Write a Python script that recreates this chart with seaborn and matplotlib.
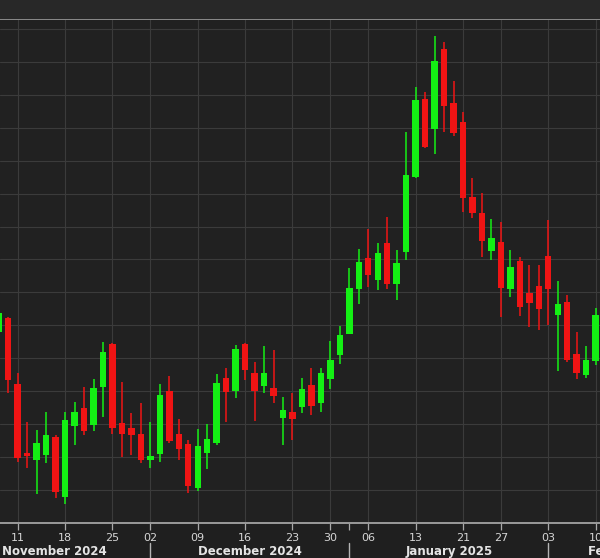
import matplotlib
matplotlib.use("Agg")
import matplotlib.pyplot as plt
import matplotlib.transforms as mtransforms
from matplotlib.patches import Rectangle
import numpy as np
import pandas as pd
import seaborn as sns

# ---------------- data (daily candles) ----------------
dates = [
    "2024-11-07", "2024-11-08", "2024-11-11", "2024-11-12", "2024-11-13", "2024-11-14", "2024-11-15",
    "2024-11-18", "2024-11-19", "2024-11-20", "2024-11-21", "2024-11-22",
    "2024-11-25", "2024-11-26", "2024-11-27", "2024-11-29",
    "2024-12-02", "2024-12-03", "2024-12-04", "2024-12-05", "2024-12-06",
    "2024-12-09", "2024-12-10", "2024-12-11", "2024-12-12", "2024-12-13",
    "2024-12-16", "2024-12-17", "2024-12-18", "2024-12-19", "2024-12-20",
    "2024-12-23", "2024-12-24", "2024-12-26", "2024-12-27",
    "2024-12-30", "2024-12-31", "2025-01-02", "2025-01-03",
    "2025-01-06", "2025-01-07", "2025-01-08", "2025-01-09", "2025-01-10",
    "2025-01-13", "2025-01-14", "2025-01-15", "2025-01-16", "2025-01-17",
    "2025-01-21", "2025-01-22", "2025-01-23", "2025-01-24",
    "2025-01-27", "2025-01-28", "2025-01-29", "2025-01-30", "2025-01-31",
    "2025-02-03", "2025-02-04", "2025-02-05", "2025-02-06", "2025-02-07",
    "2025-02-10",
]
opens = [
    71.80, 72.21, 70.21, 68.12, 67.92, 68.05, 68.59,
    66.79, 68.94, 69.50, 68.97, 70.11,
    71.43, 69.04, 68.87, 68.71,
    67.90, 68.10, 70.00, 68.69, 68.39,
    67.04, 68.13, 68.43, 70.39, 70.01,
    71.43, 70.56, 70.15, 70.10, 69.17,
    69.37, 69.52, 70.18, 69.63,
    70.36, 71.09, 71.75, 73.09,
    74.03, 73.37, 74.51, 73.27, 74.23,
    76.50, 78.87, 77.98, 80.40, 78.76,
    78.19, 75.89, 75.40, 74.26,
    74.54, 73.09, 73.95, 72.97, 73.19,
    74.10, 72.31, 72.71, 71.12, 70.49,
    70.92,
]
highs = [
    72.45, 72.26, 70.54, 69.07, 68.81, 69.37, 68.66,
    69.37, 69.67, 70.11, 70.36, 71.50,
    71.45, 70.28, 69.32, 69.64,
    69.07, 70.21, 70.46, 69.14, 68.51,
    68.84, 69.00, 70.52, 70.69, 71.40,
    71.45, 70.89, 71.37, 71.25, 69.83,
    69.93, 70.39, 70.69, 70.69,
    71.53, 71.98, 73.73, 74.31,
    74.94, 74.49, 75.30, 74.29, 77.88,
    79.25, 79.10, 80.79, 80.62, 79.43,
    78.49, 76.47, 76.01, 75.22,
    75.15, 74.29, 74.08, 73.83, 73.83,
    75.20, 73.34, 72.92, 71.80, 71.38,
    72.54,
]
lows = [
    71.70, 69.93, 67.85, 67.65, 66.87, 67.82, 66.75,
    66.56, 68.36, 68.65, 68.79, 69.22,
    68.71, 68.00, 68.05, 67.80,
    67.65, 67.85, 68.41, 67.90, 66.89,
    66.97, 67.62, 68.36, 69.07, 69.80,
    70.33, 69.10, 69.95, 69.64, 68.36,
    68.51, 69.32, 69.27, 69.37,
    70.05, 70.82, 71.73, 72.64,
    73.15, 73.07, 73.09, 72.77, 73.98,
    76.47, 77.38, 77.20, 77.88, 77.75,
    75.45, 75.25, 74.08, 73.98,
    72.26, 72.87, 72.28, 71.95, 71.87,
    72.01, 70.62, 70.89, 70.36, 70.39,
    70.79,
]
closes = [
    72.36, 70.33, 67.98, 68.04, 68.41, 68.66, 66.92,
    69.12, 69.35, 68.79, 70.08, 71.19,
    68.87, 68.69, 68.66, 67.92,
    68.03, 69.88, 68.49, 68.24, 67.11,
    68.33, 68.53, 70.25, 69.98, 71.28,
    70.64, 70.01, 70.54, 69.85, 69.42,
    69.14, 70.05, 69.54, 70.56,
    70.94, 71.70, 73.12, 73.93,
    73.53, 74.20, 73.27, 73.90, 76.57,
    78.84, 77.43, 80.04, 78.66, 77.83,
    75.86, 75.40, 74.57, 74.64,
    73.12, 73.76, 72.56, 72.67, 72.48,
    73.09, 72.64, 70.94, 70.54, 70.94,
    72.31,
]
month_labels = ["November 2024", "December 2024", "January 2025", "February 2025"]

# ---------------- style ----------------
BG = "#212121"
FIG_BG = "#1f1f1f"
HEADER = "#282828"
GRID = "#3b3b3b"
UP = "#14f014"
DOWN = "#f01414"
TXT = "#d6d6d6"

sns.set_theme(style="dark", rc={
    "axes.facecolor": BG,
    "figure.facecolor": FIG_BG,
    "axes.edgecolor": "#8c8c8c",
    "xtick.color": "#b0b0b0",
    "ytick.color": "#b0b0b0",
})
plt.rcParams["font.family"] = ["DejaVu Sans"]

df = pd.DataFrame({"date": pd.to_datetime(dates), "open": opens, "high": highs,
                   "low": lows, "close": closes})
df["idx"] = np.arange(len(df))
df["up"] = df["close"] >= df["open"]

fig = plt.figure(figsize=(6.0, 5.58), dpi=100)
fig.patches.append(Rectangle((0, 1 - 19 / 558), 1, 19 / 558, transform=fig.transFigure,
                             facecolor=HEADER, edgecolor="none", zorder=0))
ax = fig.add_axes([0, 35 / 558, 1, 504 / 558])
ax.set_facecolor(BG)

# grid: horizontal at every whole unit, vertical at week starts
for v in range(67, 82):
    ax.axhline(v, color=GRID, lw=0.8, zorder=0)

week = df["date"].dt.isocalendar().week.to_numpy()
week_start = [i for i in range(1, len(df)) if week[i] != week[i - 1]]
for i in week_start:
    ax.axvline(i, color=GRID, lw=0.8, zorder=0)

# candles
colors = np.where(df["up"], UP, DOWN)
ax.vlines(df["idx"], df["low"], df["high"], colors=colors, lw=1.1, zorder=2)
body_lo = np.minimum(df["open"], df["close"])
body_h = np.maximum(np.abs(df["close"] - df["open"]), 0.04)
ax.bar(df["idx"], body_h, bottom=body_lo, width=0.68, color=colors, linewidth=0, zorder=3)

ax.set_xlim(0.13, 63.46)
ax.set_ylim(65.99, 81.31)
ax.set_yticks([])
ax.set_ylabel("")
ax.set_xlabel("")

# x ticks
ax.set_xticks(week_start)
ax.set_xticklabels([df["date"][i].strftime("%d") for i in week_start], fontsize=8, color=TXT)
month = df["date"].dt.month.to_numpy()
month_start = [i for i in range(1, len(df)) if month[i] != month[i - 1]]
ax.set_xticks(month_start, minor=True)
ax.tick_params(axis="x", which="both", length=5, width=0.9, color="#a8a8a8", pad=2,
               direction="out", bottom=True)
ax.tick_params(axis="y", left=False)

for s in ["left", "right"]:
    ax.spines[s].set_visible(False)
ax.spines["top"].set_color("#8a8a8a")
ax.spines["top"].set_linewidth(1.4)
ax.spines["bottom"].set_color("#9a9a9a")
ax.spines["bottom"].set_linewidth(1.4)

# month labels and separators
trans = mtransforms.blended_transform_factory(ax.transData, ax.transAxes)
for i in month_start:
    ax.plot([i, i], [-0.040, -0.075], transform=trans, color="#b4b4b4", lw=1.0, clip_on=False)

bounds = [None] + month_start + [None]
for k, lab in enumerate(month_labels):
    a, b = bounds[k], bounds[k + 1]
    if a is None:
        ax.text(0.004, -0.057, lab, transform=ax.transAxes, ha="left", va="center",
                fontsize=8.5, fontweight="bold", color="#e4e4e4")
    elif b is None:
        ax.text(a + 4.2, -0.057, lab, transform=trans, ha="left", va="center",
                fontsize=8.5, fontweight="bold", color="#e4e4e4", clip_on=False)
    else:
        ax.text((a + b) / 2, -0.057, lab, transform=trans, ha="center", va="center",
                fontsize=8.5, fontweight="bold", color="#e4e4e4")

fig.savefig("out.png", dpi=100, facecolor=fig.get_facecolor())
